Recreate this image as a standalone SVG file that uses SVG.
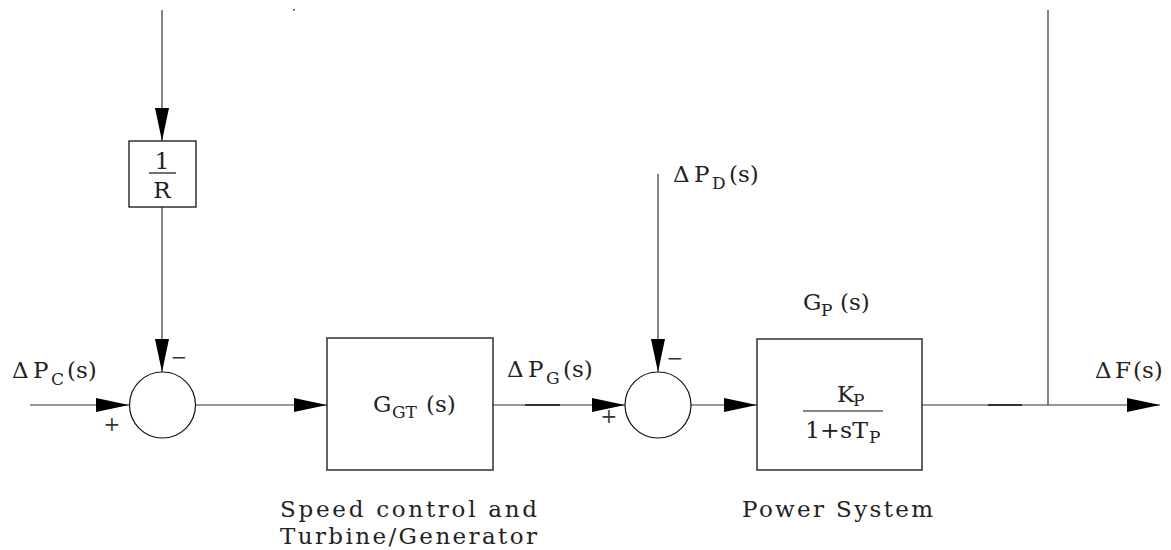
<svg xmlns="http://www.w3.org/2000/svg" width="1171" height="550" viewBox="0 0 1171 550" font-family="'DejaVu Serif', 'Liberation Serif', serif">
<style>
.ln{fill:none;stroke:#333;stroke-width:1.2}
.bx{fill:#fff;stroke:#222;stroke-width:1.4}
.ci{fill:#fff;stroke:#111;stroke-width:1.2}
text{fill:#222;font-family:'DejaVu Serif','Liberation Serif',serif}
.m{font-size:23px}
.sb{font-size:17px}
.sg{font-size:20px;fill:#333}
.lb{font-size:23px}
</style>
<defs>
<marker id="ah" viewBox="0 -7 33 14" refX="33" refY="0" markerWidth="33" markerHeight="14" markerUnits="userSpaceOnUse" orient="auto">
<path d="M0,-7 L33,0 L0,7 z" fill="#000"/>
</marker>
</defs>
<g id="connectors">
<path class="ln" d="M30,405 H129" marker-end="url(#ah)"/>
<path class="ln" d="M162,10 V141" marker-end="url(#ah)"/>
<path class="ln" d="M162,207 V372" marker-end="url(#ah)"/>
<path class="ln" d="M196,405 H327" marker-end="url(#ah)"/>
<path class="ln" d="M493,405 H625" marker-end="url(#ah)"/>
<path class="ln" d="M658,174 V372" marker-end="url(#ah)"/>
<path class="ln" d="M691,405 H757" marker-end="url(#ah)"/>
<path class="ln" d="M922,405 H1160" marker-end="url(#ah)"/>
<path class="ln" d="M1048,10 V405"/>
<path d="M525,405 H560 M988,405 H1022" stroke="#111" stroke-width="1.5" fill="none"/>
<rect x="293" y="9" width="2" height="1.5" fill="#555"/>
</g>
<g id="gain-1R">
<rect class="bx" x="129" y="141" width="67" height="66"/>
<text class="m" x="162" y="169" text-anchor="middle">1</text>
<line x1="149" y1="173" x2="176" y2="173" stroke="#111" stroke-width="1.2"/>
<text class="m" x="162" y="198" text-anchor="middle">R</text>
</g>
<g id="sum1">
<circle class="ci" cx="162.5" cy="405" r="33"/>
<text class="sg" x="112" y="431" text-anchor="middle">+</text>
<text class="sg" x="179" y="364" text-anchor="middle">−</text>
</g>
<g id="sum2">
<circle class="ci" cx="658" cy="405" r="33"/>
<text class="sg" x="609" y="423" text-anchor="middle">+</text>
<text class="sg" x="675" y="365" text-anchor="middle">−</text>
</g>
<g id="block-GGT">
<rect class="bx" x="327" y="338" width="166" height="132"/>
<text class="m" y="412"><tspan x="373">G</tspan><tspan class="sb" x="392" y="418">GT</tspan><tspan x="426" y="412">(s)</tspan></text>
</g>
<g id="block-GP">
<rect class="bx" x="757" y="339" width="165" height="131"/>
<text class="m" y="402"><tspan x="837">K</tspan><tspan class="sb" x="853" y="406">P</tspan></text>
<line x1="803" y1="411" x2="883" y2="411" stroke="#111" stroke-width="1.2"/>
<text class="m" y="438"><tspan x="805" textLength="63" lengthAdjust="spacingAndGlyphs">1+sT</tspan><tspan class="sb" x="869" y="443">P</tspan></text>
</g>
<g id="labels">
<text class="m" y="378"><tspan x="12">Δ</tspan><tspan x="33">P</tspan><tspan class="sb" x="51" y="385">C</tspan><tspan x="67" y="378">(s)</tspan></text>
<text class="m" y="377"><tspan x="507">Δ</tspan><tspan x="528">P</tspan><tspan class="sb" x="546" y="384">G</tspan><tspan x="563" y="377">(s)</tspan></text>
<text class="m" y="182"><tspan x="673">Δ</tspan><tspan x="694">P</tspan><tspan class="sb" x="712" y="189">D</tspan><tspan x="729" y="182">(s)</tspan></text>
<text class="m" y="310"><tspan x="803">G</tspan><tspan class="sb" x="821" y="316">P</tspan><tspan x="840" y="310">(s)</tspan></text>
<text class="m" y="378"><tspan x="1095">Δ</tspan><tspan x="1115">F</tspan><tspan x="1133">(s)</tspan></text>
<text class="lb" x="280" y="517" textLength="257" lengthAdjust="spacing">Speed control and</text>
<text class="lb" x="280" y="544" textLength="257" lengthAdjust="spacing">Turbine/Generator</text>
<text class="lb" x="742" y="517" textLength="191" lengthAdjust="spacing">Power System</text>
</g>
</svg>
